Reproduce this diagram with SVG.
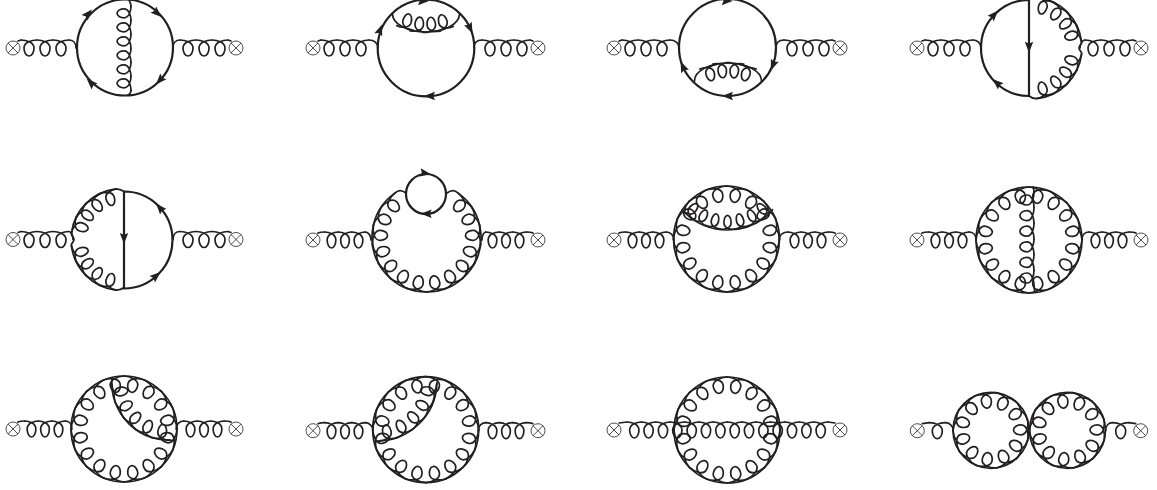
<svg xmlns="http://www.w3.org/2000/svg" width="1157" height="490" viewBox="0 0 1157 490">
<style>
.g{fill:none;stroke:#231f20;stroke-width:1.7;stroke-linecap:round;vector-effect:non-scaling-stroke}
.f{fill:none;stroke:#231f20;stroke-width:2.2;stroke-linecap:round}
.a{fill:#231f20;stroke:none}
.x{fill:#fff;stroke:#231f20;stroke-width:.8}
</style>
<defs>
<path id="sl" class="g" d="M-7.75 0C-3.500 0 5 2 5 8C5 12.500 2.700 16 0 16C-2.700 16 -5 12.500 -5 8C-5 2 3.500 0 7.750 0"/>
<path id="al" class="g" d="M-10.350 1C-5 0.300 5 1.500 5 8C5 12.200 2.700 15.500 0 15.500C-2.700 15.500 -5 12.200 -5 8C-5 1.500 5 0.300 10.350 1"/>
<path id="al2" class="g" d="M-10.700 1.550C-5 0.300 5 1.500 5 8C5 12.200 2.700 15.500 0 15.500C-2.700 15.500 -5 12.200 -5 8C-5 1.500 5 0.300 10.700 1.550"/>
<path id="ar" class="a" d="M6 0L-5 -4.200L-3.200 0L-5 4.200Z"/>
<g id="x"><circle class="x" r="7"/><path class="x" d="M-4.900 -4.900L4.900 4.900M-4.900 4.900L4.900 -4.900"/></g>
<g id="legA"><path class="g" d="M5 -7L8 -8"/><use href="#sl" transform="translate(16 -8)"/><use href="#sl" transform="translate(32 -8)"/><use href="#sl" transform="translate(48 -8)"/></g>
<g id="legB"><path class="g" d="M5 -7C7 -8 9 -8 11.750 -8"/><use href="#sl" transform="translate(18.500 -8) scale(.87 1)"/><use href="#sl" transform="translate(32 -8) scale(.87 1)"/><use href="#sl" transform="translate(45.500 -8) scale(.87 1)"/></g>
<g id="ring"><circle class="g" r="53"/>
<use href="#al" transform="rotate(11.250) translate(0 -53)"/><use href="#al" transform="rotate(33.750) translate(0 -53)"/><use href="#al" transform="rotate(56.250) translate(0 -53)"/><use href="#al" transform="rotate(78.750) translate(0 -53)"/><use href="#al" transform="rotate(101.250) translate(0 -53)"/><use href="#al" transform="rotate(123.750) translate(0 -53)"/><use href="#al" transform="rotate(146.250) translate(0 -53)"/><use href="#al" transform="rotate(168.750) translate(0 -53)"/><use href="#al" transform="rotate(191.250) translate(0 -53)"/><use href="#al" transform="rotate(213.750) translate(0 -53)"/><use href="#al" transform="rotate(236.250) translate(0 -53)"/><use href="#al" transform="rotate(258.750) translate(0 -53)"/><use href="#al" transform="rotate(281.250) translate(0 -53)"/><use href="#al" transform="rotate(303.750) translate(0 -53)"/><use href="#al" transform="rotate(326.250) translate(0 -53)"/><use href="#al" transform="rotate(348.750) translate(0 -53)"/></g>
<g id="ring2"><circle class="g" r="38"/>
<use href="#al2" transform="rotate(-9) translate(0 -38)"/><use href="#al2" transform="rotate(23.730) translate(0 -38)"/><use href="#al2" transform="rotate(56.450) translate(0 -38)"/><use href="#al2" transform="rotate(89.180) translate(0 -38)"/><use href="#al2" transform="rotate(121.910) translate(0 -38)"/><use href="#al2" transform="rotate(154.640) translate(0 -38)"/><use href="#al2" transform="rotate(187.360) translate(0 -38)"/><use href="#al2" transform="rotate(220.090) translate(0 -38)"/><use href="#al2" transform="rotate(252.820) translate(0 -38)"/><use href="#al2" transform="rotate(285.550) translate(0 -38)"/><use href="#al2" transform="rotate(318.270) translate(0 -38)"/></g>
<g id="half"><path class="g" d="M0 -48C3 -50 5 -50.500 8.200 -50.600A51 51 0 0 1 52.500 -7C54 -4 50 -3 50 0C50 3 54 4 52.500 7A51 51 0 0 1 8.200 50.600C5 50.800 3 50.500 0 48"/>
<g transform="translate(2 0)"><use href="#al" transform="rotate(16) translate(0 -51) scale(.85 1)"/><use href="#al" transform="rotate(36) translate(0 -51) scale(.85 1)"/><use href="#al" transform="rotate(55) translate(0 -51) scale(.85 1)"/><use href="#al" transform="rotate(73) translate(0 -51) scale(.85 1)"/><use href="#al" transform="rotate(107) translate(0 -51) scale(.85 1)"/><use href="#al" transform="rotate(125) translate(0 -51) scale(.85 1)"/><use href="#al" transform="rotate(144) translate(0 -51) scale(.85 1)"/><use href="#al" transform="rotate(164) translate(0 -51) scale(.85 1)"/></g></g>
</defs>
<rect width="1157" height="490" fill="#fff"/>
<g id="connectors">
<g id="d1-lines"><circle class="f" cx="125" cy="47.500" r="48"/>
<path class="g" d="M129 0C131 3 131 5 131 6.300M131 90.300C131 92 130 94 128 95"/>
<g transform="translate(131 0)"><use href="#sl" transform="translate(0 13.300) rotate(90) scale(.9 .87)"/><use href="#sl" transform="translate(0 27.300) rotate(90) scale(.9 .87)"/><use href="#sl" transform="translate(0 41.300) rotate(90) scale(.9 .87)"/><use href="#sl" transform="translate(0 55.300) rotate(90) scale(.9 .87)"/><use href="#sl" transform="translate(0 69.300) rotate(90) scale(.9 .87)"/><use href="#sl" transform="translate(0 83.300) rotate(90) scale(.9 .87)"/></g>
<use href="#ar" transform="translate(88 14) rotate(-48)"/><use href="#ar" transform="translate(157 13) rotate(43)"/><use href="#ar" transform="translate(160 80) rotate(133)"/><use href="#ar" transform="translate(91 83) rotate(224)"/>
<g transform="translate(13 48)"><use href="#legA"/><path class="g" d="M56 -8C60 -8 63 -5 63 0"/></g>
<g transform="translate(236 48) scale(-1 1)"><use href="#legA"/><path class="g" d="M56 -8C60 -8 63 -5 63 0"/></g></g>
<g id="d2-lines"><circle class="f" cx="426" cy="48" r="48.300"/>
<path class="g" d="M392.500 14A33.500 18 0 0 0 459.500 14"/>
<use href="#al" transform="translate(405 29) rotate(195) scale(.85 1)"/><use href="#al" transform="translate(418.500 32.500) rotate(185) scale(.85 1)"/><use href="#al" transform="translate(432 32.700) rotate(175) scale(.85 1)"/><use href="#al" transform="translate(445 29.800) rotate(165) scale(.85 1)"/>
<use href="#ar" transform="translate(380 30) rotate(-69)"/><use href="#ar" transform="translate(423 1) rotate(0)"/><use href="#ar" transform="translate(470 28) rotate(65)"/><use href="#ar" transform="translate(430 96) rotate(180)"/>
<g transform="translate(313 48)"><use href="#legA"/><path class="g" d="M56 -8C61 -8 65 -5 65 0"/></g>
<g transform="translate(538 48) scale(-1 1)"><use href="#legA"/><path class="g" d="M56 -8C61 -8 64 -5 64 0"/></g></g>
<g id="d3-lines"><circle class="f" cx="727.500" cy="47.500" r="48.500"/>
<path class="g" d="M694.500 81A33.500 18 0 0 1 761.500 81"/>
<use href="#al" transform="translate(708 65.700) rotate(-15) scale(.85 1)"/><use href="#al" transform="translate(721.500 62.300) rotate(-5) scale(.85 1)"/><use href="#al" transform="translate(735 62.400) rotate(5) scale(.85 1)"/><use href="#al" transform="translate(748 65.700) rotate(15) scale(.85 1)"/>
<use href="#ar" transform="translate(726.700 1) rotate(0)"/><use href="#ar" transform="translate(773 65) rotate(111)"/><use href="#ar" transform="translate(728 96) rotate(180)"/><use href="#ar" transform="translate(683 67) rotate(246)"/>
<g transform="translate(614 48)"><use href="#legA"/><path class="g" d="M56 -8C61 -8 65 -5 65 0"/></g>
<g transform="translate(840 48) scale(-1 1)"><use href="#legA"/><path class="g" d="M56 -8C61 -8 64 -5 64 0"/></g></g>
<g id="d4-lines"><path class="f" d="M1029 0A48 48 0 0 0 1029 96V0"/>
<use href="#half" transform="translate(1029 48)"/>
<use href="#ar" transform="translate(994 15) rotate(-47)"/><use href="#ar" transform="translate(997 83) rotate(222)"/><use href="#ar" transform="translate(1029 46.700) rotate(90)"/>
<g transform="translate(917 48)"><use href="#legA"/><path class="g" d="M56 -8C60 -8 64 -5 64 0"/></g>
<g transform="translate(1141 48) scale(-1 1)"><use href="#legA"/><path class="g" d="M56 -8C58 -8 61 -5 61 0"/></g></g>
<g id="d5-lines"><path class="f" d="M124 191.500A48.500 48.500 0 0 1 124 288.500V191.500"/>
<use href="#half" transform="translate(124 239.500) scale(-1 1)"/>
<use href="#ar" transform="translate(124 238) rotate(90)"/><use href="#ar" transform="translate(160 208) rotate(229)"/><use href="#ar" transform="translate(156 276) rotate(-41)"/>
<g transform="translate(13 239.500)"><use href="#legA"/><path class="g" d="M56 -8C58 -8 60 -5 60 0"/></g>
<g transform="translate(236 239.500) scale(-1 1)"><use href="#legA"/><path class="g" d="M56 -8C60 -8 63 -5 63 0"/></g></g>
<g id="d6-lines"><circle class="f" cx="426" cy="194" r="20"/>
<path class="g" d="M406 193C402 190 398 190 395.200 192.900A54.500 54.500 0 1 0 457.800 192.900C455 190 451 190 447 193"/>
<g transform="translate(426.500 237.500)"><use href="#al" transform="rotate(46.100) translate(0 -54.500)"/><use href="#al" transform="rotate(66.700) translate(0 -54.500)"/><use href="#al" transform="rotate(87.300) translate(0 -54.500)"/><use href="#al" transform="rotate(107.900) translate(0 -54.500)"/><use href="#al" transform="rotate(128.500) translate(0 -54.500)"/><use href="#al" transform="rotate(149.100) translate(0 -54.500)"/><use href="#al" transform="rotate(169.700) translate(0 -54.500)"/><use href="#al" transform="rotate(-46.100) translate(0 -54.500)"/><use href="#al" transform="rotate(-66.700) translate(0 -54.500)"/><use href="#al" transform="rotate(-87.300) translate(0 -54.500)"/><use href="#al" transform="rotate(-107.900) translate(0 -54.500)"/><use href="#al" transform="rotate(-128.500) translate(0 -54.500)"/><use href="#al" transform="rotate(-149.100) translate(0 -54.500)"/><use href="#al" transform="rotate(-169.700) translate(0 -54.500)"/></g>
<use href="#ar" transform="translate(425 173.300) rotate(10)"/><use href="#ar" transform="translate(426.700 213.800) rotate(180)"/>
<g transform="translate(313 240)"><use href="#legB"/><path class="g" d="M52 -8C55 -8 58 -5 58 0"/></g>
<g transform="translate(538 240) scale(-1 1)"><use href="#legB"/><path class="g" d="M52 -8C54 -8 56 -5 56 0"/></g></g>
<g id="d7-lines"><use href="#ring" transform="translate(726.500 239)"/>
<path class="g" d="M685 213A61.600 61.600 0 0 0 770 213"/>
<g transform="translate(727.500 168.400)"><use href="#al" transform="rotate(180) translate(0 -61.600) scale(.72 .95)"/><use href="#al" transform="rotate(193.500) translate(0 -61.600) scale(.72 .95)"/><use href="#al" transform="rotate(207) translate(0 -61.600) scale(.72 .95)"/><use href="#al" transform="rotate(220.500) translate(0 -61.600) scale(.72 .95)"/><use href="#al" transform="rotate(166.500) translate(0 -61.600) scale(.72 .95)"/><use href="#al" transform="rotate(153) translate(0 -61.600) scale(.72 .95)"/><use href="#al" transform="rotate(139.500) translate(0 -61.600) scale(.72 .95)"/></g>
<g transform="translate(614 240)"><use href="#legB"/><path class="g" d="M52 -8C56 -8 60 -5 60 0"/></g>
<g transform="translate(840 240) scale(-1 1)"><use href="#legB"/><path class="g" d="M52 -8C57 -8 61 -5 61 0"/></g></g>
<g id="d8-lines"><use href="#ring" transform="translate(1029 240)"/>
<path class="g" d="M1033 187C1034 190 1034 191 1034 192.200M1034 285.800C1034 288 1034.500 290 1035 292"/>
<g transform="translate(1034 0)"><use href="#sl" transform="translate(0 200) rotate(90) scale(1 .88)"/><use href="#sl" transform="translate(0 215.600) rotate(90) scale(1 .88)"/><use href="#sl" transform="translate(0 231.200) rotate(90) scale(1 .88)"/><use href="#sl" transform="translate(0 246.800) rotate(90) scale(1 .88)"/><use href="#sl" transform="translate(0 262.400) rotate(90) scale(1 .88)"/><use href="#sl" transform="translate(0 278) rotate(90) scale(1 .88)"/></g>
<g transform="translate(917 240)"><use href="#legB"/><path class="g" d="M52 -8C56 -8 59 -5 59 0"/></g>
<g transform="translate(1141 240) scale(-1 1)"><use href="#legB"/><path class="g" d="M52 -8C56 -8 59 -5 59 0"/></g></g>
<g id="d9-lines"><use href="#ring" transform="translate(124 429)"/>
<path class="g" d="M112 378A57.400 57.400 0 0 0 175 440"/>
<g transform="translate(169 383)"><use href="#al" transform="rotate(188) translate(0 -57.400) scale(.86 1)"/><use href="#al" transform="rotate(206) translate(0 -57.400) scale(.86 1)"/><use href="#al" transform="rotate(224) translate(0 -57.400) scale(.86 1)"/><use href="#al" transform="rotate(242) translate(0 -57.400) scale(.86 1)"/><use href="#al" transform="rotate(260) translate(0 -57.400) scale(.86 1)"/></g>
<g transform="translate(13 429)"><use href="#legB"/><path class="g" d="M52 -8C56 -8 59 -5 59 0"/></g>
<g transform="translate(236 429) scale(-1 1)"><use href="#legB"/><path class="g" d="M52 -8C56 -8 60 -5 60 0"/></g></g>
<g id="d10-lines"><use href="#ring" transform="translate(425.700 429.700)"/>
<path class="g" d="M437 382A60 60 0 0 1 375 441"/>
<g transform="translate(377 381.300)"><use href="#al" transform="rotate(101) translate(0 -60) scale(.86 1)"/><use href="#al" transform="rotate(118) translate(0 -60) scale(.86 1)"/><use href="#al" transform="rotate(135) translate(0 -60) scale(.86 1)"/><use href="#al" transform="rotate(152) translate(0 -60) scale(.86 1)"/><use href="#al" transform="rotate(169) translate(0 -60) scale(.86 1)"/></g>
<g transform="translate(313 430.700)"><use href="#legB"/><path class="g" d="M52 -8C56 -8 60 -5 60 0"/></g>
<g transform="translate(538 430.700) scale(-1 1)"><use href="#legB"/><path class="g" d="M52 -8C56 -8 60 -5 60 0"/></g></g>
<g id="d11-lines"><use href="#ring" transform="translate(727 430)"/>
<path class="g" d="M619 423L627.100 422M827.900 422L835 423"/>
<g transform="translate(0 422)"><use href="#sl" transform="translate(634.300 0) scale(.93 1)"/><use href="#sl" transform="translate(648.600 0) scale(.93 1)"/><use href="#sl" transform="translate(663 0) scale(.93 1)"/><use href="#sl" transform="translate(677.300 0) scale(.93 1)"/><use href="#sl" transform="translate(691.700 0) scale(.93 1)"/><use href="#sl" transform="translate(706 0) scale(.93 1)"/><use href="#sl" transform="translate(720.400 0) scale(.93 1)"/><use href="#sl" transform="translate(734.700 0) scale(.93 1)"/><use href="#sl" transform="translate(749 0) scale(.93 1)"/><use href="#sl" transform="translate(763.400 0) scale(.93 1)"/><use href="#sl" transform="translate(777.700 0) scale(.93 1)"/><use href="#sl" transform="translate(792 0) scale(.93 1)"/><use href="#sl" transform="translate(806.400 0) scale(.93 1)"/><use href="#sl" transform="translate(820.700 0) scale(.93 1)"/></g></g>
<g id="d12-lines"><use href="#ring2" transform="translate(991 430.300)"/><use href="#ring2" transform="translate(1067.500 430.300)"/>
<g transform="translate(917.300 430.700)"><path class="g" d="M5 -7L12 -8"/><use href="#sl" transform="translate(20 -8)"/><path class="g" d="M28 -8C32 -8 36 -5 36 0"/></g>
<g transform="translate(1140.700 430.700) scale(-1 1)"><path class="g" d="M5 -7L12 -8"/><use href="#sl" transform="translate(20 -8)"/><path class="g" d="M28 -8C32 -8 35 -5 35 0"/></g></g>
</g>
<g id="node-d1-in"><use href="#x" transform="translate(13 48)"/></g><g id="node-d1-out"><use href="#x" transform="translate(236 48)"/></g>
<g id="node-d2-in"><use href="#x" transform="translate(313 48)"/></g><g id="node-d2-out"><use href="#x" transform="translate(538 48)"/></g>
<g id="node-d3-in"><use href="#x" transform="translate(614 48)"/></g><g id="node-d3-out"><use href="#x" transform="translate(840 48)"/></g>
<g id="node-d4-in"><use href="#x" transform="translate(917 48)"/></g><g id="node-d4-out"><use href="#x" transform="translate(1141 48)"/></g>
<g id="node-d5-in"><use href="#x" transform="translate(13 239.500)"/></g><g id="node-d5-out"><use href="#x" transform="translate(236 239.500)"/></g>
<g id="node-d6-in"><use href="#x" transform="translate(313 240)"/></g><g id="node-d6-out"><use href="#x" transform="translate(538 240)"/></g>
<g id="node-d7-in"><use href="#x" transform="translate(614 240)"/></g><g id="node-d7-out"><use href="#x" transform="translate(840 240)"/></g>
<g id="node-d8-in"><use href="#x" transform="translate(917 240)"/></g><g id="node-d8-out"><use href="#x" transform="translate(1141 240)"/></g>
<g id="node-d9-in"><use href="#x" transform="translate(13 429)"/></g><g id="node-d9-out"><use href="#x" transform="translate(236 429)"/></g>
<g id="node-d10-in"><use href="#x" transform="translate(313 430.700)"/></g><g id="node-d10-out"><use href="#x" transform="translate(538 430.700)"/></g>
<g id="node-d11-in"><use href="#x" transform="translate(614 430)"/></g><g id="node-d11-out"><use href="#x" transform="translate(840 430)"/></g>
<g id="node-d12-in"><use href="#x" transform="translate(917.300 430.700)"/></g><g id="node-d12-out"><use href="#x" transform="translate(1140.700 430.700)"/></g>
</svg>
